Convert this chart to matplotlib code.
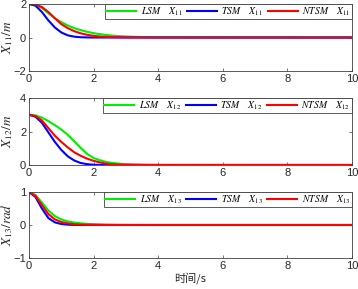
import numpy as np
import matplotlib
matplotlib.use('Agg')
import matplotlib.pyplot as plt

plt.rcParams.update({
    'font.family'      : ['Liberation Sans', 'Noto Sans CJK SC'],
    'mathtext.fontset' : 'stix',
    'axes.edgecolor'   : '#404040',
    'axes.linewidth'   : 0.6,
    'xtick.color'      : '#404040',
    'ytick.color'      : '#404040',
    'xtick.labelcolor' : '#262626',
    'ytick.labelcolor' : '#262626',
    'xtick.direction'  : 'in',
    'ytick.direction'  : 'in',
    'xtick.top'        : True,
    'ytick.right'      : True,
    'xtick.major.size' : 2.5,
    'ytick.major.size' : 2.5,
    'xtick.major.width': 0.5,
    'ytick.major.width': 0.5,
    'xtick.labelsize'  : 8,
    'ytick.labelsize'  : 8,
})

GREEN = '#00ee00'
BLUE  = '#0000ff'
RED   = '#ff0000'

# 시간 샘플 (s)
t = [0, 0.2, 0.4, 0.6, 0.8, 1.0, 1.2, 1.4, 1.6, 1.8, 2.0,
     2.2, 2.4, 2.6, 2.8, 3.0, 3.5, 4.0, 10]

# X11 (m)
lsm_x11  = [2, 1.95, 1.76, 1.45, 1.15, 0.92, 0.72, 0.56, 0.44, 0.34, 0.26,
            0.20, 0.15, 0.11, 0.08, 0.06, 0.025, 0.01, 0]
tsm_x11  = [2, 1.90, 1.52, 1.02, 0.60, 0.30, 0.13, 0.05, 0.015, 0.004, 0.0,
            0, 0, 0, 0, 0, 0, 0, 0]
ntsm_x11 = [2, 1.97, 1.82, 1.52, 1.15, 0.80, 0.56, 0.38, 0.25, 0.16, 0.10,
            0.06, 0.035, 0.02, 0.01, 0.005, 0.001, 0, 0]

# X12 (m)
lsm_x12  = [3, 2.96, 2.83, 2.62, 2.38, 2.12, 1.80, 1.42, 1.02, 0.66, 0.42,
            0.28, 0.18, 0.12, 0.08, 0.05, 0.02, 0.005, 0]
tsm_x12  = [3, 2.88, 2.52, 1.95, 1.38, 0.90, 0.52, 0.27, 0.12, 0.05, 0.015,
            0.003, 0, 0, 0, 0, 0, 0, 0]
ntsm_x12 = [3, 2.92, 2.66, 2.20, 1.75, 1.38, 1.05, 0.76, 0.55, 0.38, 0.25,
            0.15, 0.08, 0.045, 0.02, 0.01, 0.002, 0, 0]

# X13 (rad)
lsm_x13  = [1, 0.91, 0.68, 0.44, 0.27, 0.17, 0.11, 0.075, 0.05, 0.035, 0.025,
            0.018, 0.012, 0.008, 0.005, 0.003, 0.001, 0, 0]
tsm_x13  = [1, 0.85, 0.50, 0.21, 0.08, 0.03, 0.01, 0.003, 0, 0, 0,
            0, 0, 0, 0, 0, 0, 0, 0]
ntsm_x13 = [1, 0.88, 0.60, 0.33, 0.17, 0.09, 0.05, 0.025, 0.012, 0.006, 0.003,
            0.001, 0, 0, 0, 0, 0, 0, 0]

panels = [
    (lsm_x11, tsm_x11, ntsm_x11, '11', r'$X_{11}/m$',   (-2, 2), [-2, 0, 2]),
    (lsm_x12, tsm_x12, ntsm_x12, '12', r'$X_{12}/m$',   (0, 4),  [0, 2, 4]),
    (lsm_x13, tsm_x13, ntsm_x13, '13', r'$X_{13}/rad$', (-1, 1), [-1, 0, 1]),
]

fig = plt.figure(figsize=(3.58, 2.89), dpi=100)
W, H = 358, 289
boxes = [(4, 71), (98, 165), (192, 258)]   # (top px, bottom px)

for (lsm, tsm, ntsm, sub, ylab, ylim, yt), (top, bot) in zip(panels, boxes):
    ax = fig.add_axes([29 / W, 1 - bot / H, 323 / W, (bot - top) / H])
    ax.plot(t, lsm,  color=GREEN, lw=1.5, label=r'$LSM\quad\ X_{%s}$' % sub)
    ax.plot(t, tsm,  color=BLUE,  lw=1.5, label=r'$TSM\quad\ X_{%s}$' % sub)
    ax.plot(t, ntsm, color=RED,   lw=1.5, label=r'$NTSM\quad\ X_{%s}$' % sub)
    ax.set_xlim(0, 10)
    ax.set_ylim(*ylim)
    ax.set_xticks([0, 2, 4, 6, 8, 10])
    ax.set_yticks(yt)
    ax.tick_params(pad=2)
    ax.set_ylabel(ylab, fontsize=9.5, color='#262626', labelpad=0)
    ax.yaxis.set_label_coords(-0.042, 0.5)
    leg = ax.legend(loc='upper right', ncol=3, fontsize=7, frameon=True,
                    fancybox=False, edgecolor='#404040', framealpha=1,
                    borderaxespad=0, handlelength=3.1, columnspacing=0.45,
                    handletextpad=0.45, borderpad=0.15)
    leg.get_frame().set_linewidth(0.6)

ax.set_xlabel('时间/s', fontsize=8, color='#262626', labelpad=1,
              family=['Noto Sans CJK SC', 'DejaVu Sans'])

fig.savefig('out.png', dpi=100)
